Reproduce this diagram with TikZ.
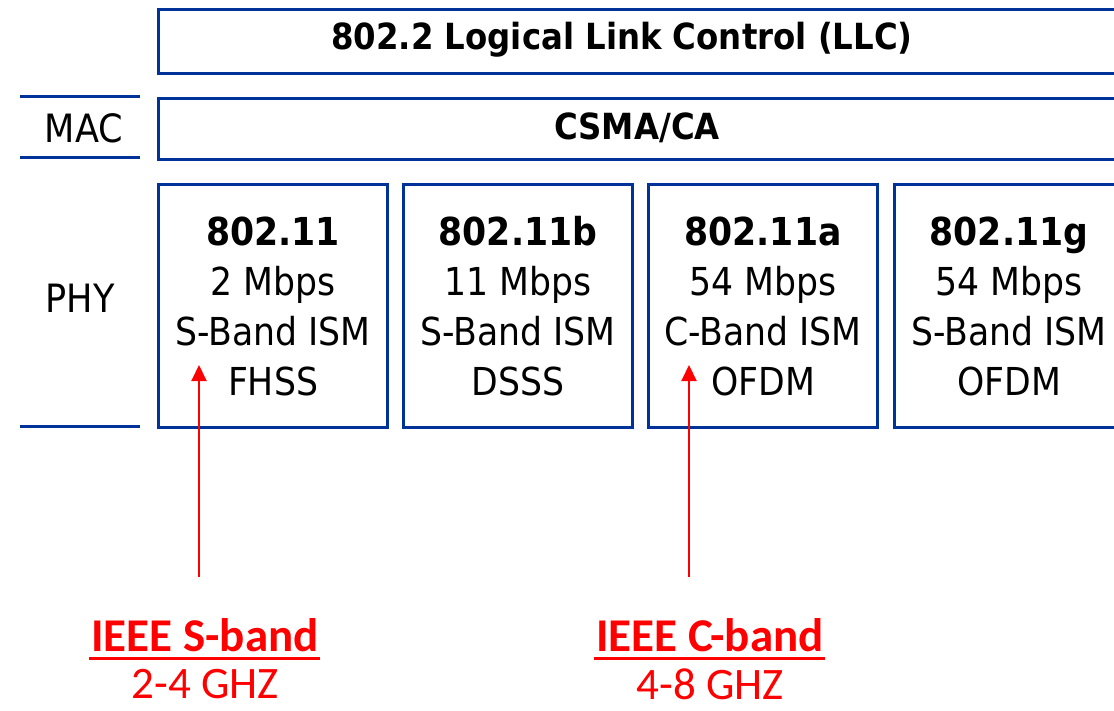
\documentclass[tikz,border=0pt]{standalone}
\usepackage{fontspec}
\usepackage{tikz}
\usetikzlibrary{arrows.meta}
\setmainfont{DejaVu Sans Condensed}
\newfontfamily\bandfont{Carlito}
\definecolor{layerblue}{RGB}{0,51,153}
\definecolor{bandred}{RGB}{255,0,0}
\tikzset{
  layerbox/.style={draw=layerblue, line width=3pt, rectangle, inner sep=0pt, anchor=north west},
  phybox/.style={layerbox, minimum width=229pt, minimum height=243pt, align=center,
    font=\fontsize{38.5}{50}\selectfont},
  sidelabel/.style={font=\fontsize{39}{48}\selectfont},
  layertext/.style={font=\bfseries\fontsize{36}{44}\selectfont},
  sideline/.style={draw=layerblue, line width=3pt},
  bandarrow/.style={draw=bandred, line width=2pt, -{Triangle[width=15pt,length=16pt]}},
  bandtitle/.style={text=bandred, inner sep=0pt, font=\bandfont\bfseries\fontsize{47}{50}\selectfont},
  bandrange/.style={text=bandred, inner sep=0pt, font=\bandfont\fontsize{45}{50}\selectfont}
}
\begin{document}
\begin{tikzpicture}[x=1pt, y=-1pt]
		\useasboundingbox (0,0) rectangle (1114,711);
		\clip (0,0) rectangle (1114,711);
		% upper layers
		\node[layerbox, minimum width=1000pt, minimum height=64pt] (llc) at (157,8) {};
		\node[layertext] (llctext) at (622,40) {802.2 Logical Link Control (LLC)};
		\node[layerbox, minimum width=1000pt, minimum height=61pt] (mac) at (157,97) {};
		\node[layertext] (mactext) at (637,128) {CSMA/CA};
		% side labels
		\draw[sideline] (20,97) -- (140,97);
		\draw[sideline] (20,158) -- (140,158);
		\draw[sideline] (20,426) -- (140,426);
		\node[sidelabel] (maclabel) at (84,128) {MAC};
		\node[sidelabel] (phylabel) at (80,298) {PHY};
		% physical layers
		\node[phybox] (phya) at (157,183) {\textbf{802.11}\\2 Mbps\\S-Band ISM\\FHSS};
		\node[phybox] (phyb) at (402,183) {\textbf{802.11b}\\11 Mbps\\S-Band ISM\\DSSS};
		\node[phybox] (phyc) at (647,183) {\textbf{802.11a}\\54 Mbps\\C-Band ISM\\OFDM};
		\node[phybox] (phyd) at (893,183) {\textbf{802.11g}\\54 Mbps\\S-Band ISM\\OFDM};
		% bands
		\node[bandtitle] (sband) at (205,635) {IEEE S-band};
		\node[bandrange] (srange) at (205,684) {2-4 GHZ};
		\node[bandtitle] (cband) at (710,635) {IEEE C-band};
		\node[bandrange] (crange) at (710,684) {4-8 GHZ};
		\draw[bandred, line width=3pt] ([xshift=-2pt, yshift=-7pt]sband.base west) -- ([xshift=1pt, yshift=-7pt]sband.base east);
		\draw[bandred, line width=3pt] ([xshift=-2pt, yshift=-7pt]cband.base west) -- ([xshift=1pt, yshift=-7pt]cband.base east);
		\coordinate (sfoot) at (199,577);
		\coordinate (stip) at (199,365);
		\coordinate (cfoot) at (689,577);
		\coordinate (ctip) at (689,365);
		\draw[bandarrow] (sfoot) -- (stip);
		\draw[bandarrow] (cfoot) -- (ctip);
\end{tikzpicture}
\end{document}
